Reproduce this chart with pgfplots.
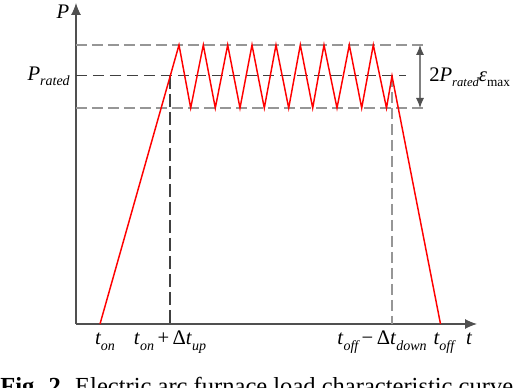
\documentclass[border=0pt]{standalone}
\usepackage{pgfplots}
\pgfplotsset{compat=1.18}
\usepackage{fontspec}
\setmainfont{Liberation Serif}
\usetikzlibrary{arrows.meta}

\definecolor{axgray}{RGB}{80,80,80}
\definecolor{dashgray}{RGB}{150,150,150}
\definecolor{dashdark}{RGB}{64,64,64}
\definecolor{arrgray}{RGB}{128,128,128}

% italic subscript, set low like the original
\newcommand{\sub}[1]{\raisebox{-4pt}{\fontsize{10.5}{12}\selectfont\itshape #1}}
\newcommand{\subsm}[1]{\raisebox{-4pt}{\fontsize{9.5}{11}\selectfont\itshape #1}}
\newcommand{\subup}[1]{\raisebox{-4pt}{\fontsize{10}{12}\selectfont #1}}
\newcommand{\lbl}{\fontsize{15.5}{17}\selectfont}

\begin{document}
\begin{tikzpicture}
\begin{axis}[
    name=ax,
    scale only axis,
    width=300.75pt, height=240.75pt,
    xmin=76, xmax=477, ymin=64, ymax=385,
    axis lines=left,
    axis line style={draw=axgray, line width=0.8pt,
        -{Latex[length=9pt, width=7.5pt]}},
    xtick=\empty, ytick=\empty,
    clip=false,
]
% upper / lower bounds of the fluctuation
\addplot[dashgray, line width=1.1pt, dash pattern=on 8.25pt off 3.75pt]
    coordinates {(76,343) (425,343)};
\addplot[dashgray, line width=1.1pt, dash pattern=on 8.25pt off 3.75pt]
    coordinates {(76,280) (425,280)};
% rated power
\addplot[dashdark, line width=0.75pt, dash pattern=on 8.25pt off 4.5pt]
    coordinates {(76,312) (406,312)};
% vertical markers
\addplot[dashdark, line width=0.9pt, dash pattern=on 9.75pt off 3.75pt]
    coordinates {(170,312) (170,64)};
\addplot[dashgray, line width=1.4pt, dash pattern=on 8.25pt off 3.75pt]
    coordinates {(392,312) (392,64)};

% load curve
\addplot[red, line width=1.1pt, line join=miter] coordinates {
    (100,64) (179,343) (190.7,280) (203.3,343) (215.3,280)
    (227.7,343) (240,280) (252,343) (264.3,280) (276,343)
    (288.7,280) (300.3,343) (312.7,280) (324,343) (337,280)
    (349.3,343) (361.7,280) (373.3,343) (386.5,280) (392,312)
    (440.5,64)
};

\draw[arrgray, line width=0.8pt,
      {Latex[length=7.5pt, width=6pt, color=axgray]}-{Latex[length=7.5pt, width=6pt, color=axgray]}]
    (axis cs:420,343) -- (axis cs:420,280);

\node[anchor=center] at (axis cs:63,376) {\lbl\itshape P};
\node[anchor=east, inner sep=0pt] at (axis cs:70,312) {\lbl\itshape P\sub{rated}};
\node[anchor=west, inner sep=0pt] at (axis cs:429,311) {\lbl 2\textit{P}\subsm{rated}\textit{ε}\subup{max}};

\node[anchor=base, inner sep=0pt] at (axis cs:105,43) {\lbl\itshape t\sub{on}};
\node[anchor=base, inner sep=0pt] at (axis cs:170,43) {\lbl\textit{t}\sub{on}\,+\,Δ\textit{t}\sub{up}};
\node[anchor=base, inner sep=0pt] at (axis cs:382,43) {\lbl\textit{t}\sub{off}\,−\,Δ\textit{t}\sub{down}};
\node[anchor=base, inner sep=0pt] at (axis cs:444,43) {\lbl\itshape t\sub{off}};
\node[anchor=base, inner sep=0pt] at (axis cs:469,43) {\lbl\itshape t};

\node[anchor=base west, inner sep=0pt] at (axis cs:0,-7)
    {\fontsize{18.4}{20}\selectfont\textbf{Fig. 2.} Electric arc furnace load characteristic curve};
\end{axis}
\pgfresetboundingbox
\path ([shift={(-57pt,-48pt)}]ax.south west) rectangle ++(385.5pt,291pt);
\end{tikzpicture}
\end{document}
